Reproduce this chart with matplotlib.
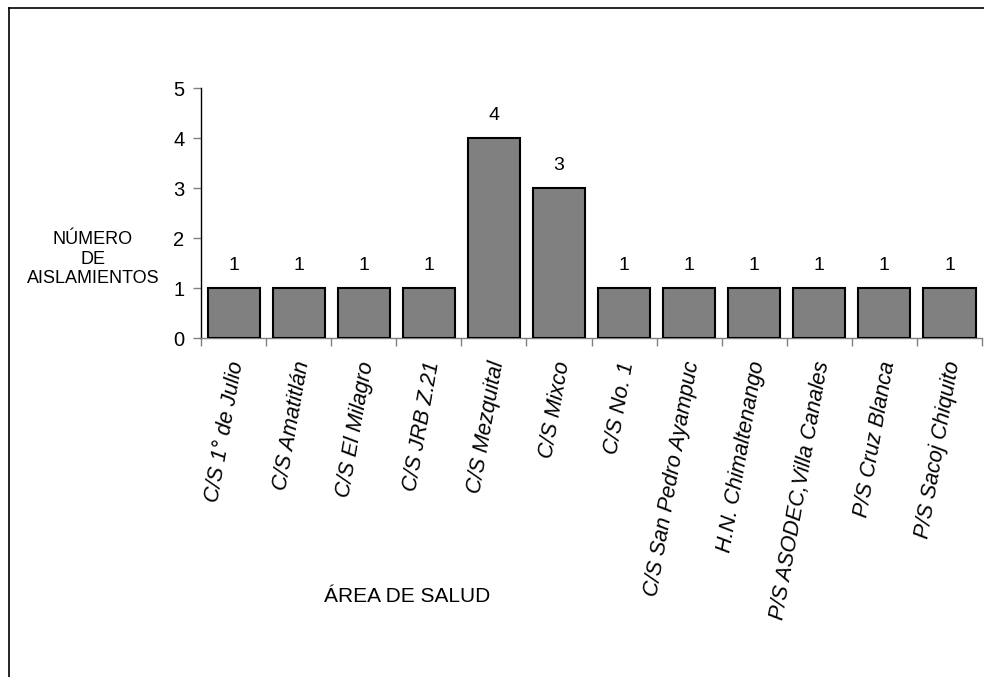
import matplotlib.pyplot as plt
from matplotlib.lines import Line2D
from matplotlib.ticker import FixedLocator

plt.rcParams['font.family'] = ['Liberation Sans', 'DejaVu Sans']

areas = ["C/S 1° de Julio", "C/S Amatitlán", "C/S El Milagro", "C/S JRB Z.21",
         "C/S Mezquital", "C/S Mixco", "C/S No. 1", "C/S San Pedro Ayampuc",
         "H.N. Chimaltenango", "P/S ASODEC,Villa Canales", "P/S Cruz Blanca",
         "P/S Sacoj Chiquito"]
aislamientos = [1, 1, 1, 1, 4, 3, 1, 1, 1, 1, 1, 1]
y_ticks = [0, 1, 2, 3, 4, 5]

fig = plt.figure(figsize=(9.84, 6.77), dpi=100)
ax = fig.add_axes([0.2043, 0.5007, 0.7937, 0.3693])

x = list(range(len(areas)))
bars = ax.bar(x, aislamientos, width=0.8, color='#808080',
              edgecolor='black', linewidth=1.5, zorder=3)

# value labels on top of each bar
for rect, v in zip(bars, aislamientos):
    ax.annotate(str(v), (rect.get_x() + rect.get_width() / 2, v),
                xytext=(0, 10), textcoords='offset points',
                ha='center', va='bottom', fontsize=14)

ax.set_xlim(-0.5, len(areas) - 0.5)
ax.set_ylim(0, 5)
ax.set_yticks(y_ticks)
ax.tick_params(axis='y', direction='out', length=6, width=1, color='#808080',
               labelsize=14.5, pad=6)

# category ticks sit between the bars
ax.set_xticks(x)
ax.set_xticklabels([])
ax.tick_params(axis='x', which='major', length=0)
ax.xaxis.set_minor_locator(FixedLocator([i - 0.5 for i in range(len(areas) + 1)]))
ax.tick_params(axis='x', which='minor', direction='out', length=6, width=1,
               color='#808080')

for i, name in enumerate(areas):
    ax.annotate(name, (i, 0), xytext=(3, -17), textcoords='offset points',
                ha='right', va='center', rotation=80, rotation_mode='anchor',
                fontsize=15.5, style='italic')

for side in ('top', 'right'):
    ax.spines[side].set_visible(False)
ax.spines['left'].set_color('black')
ax.spines['left'].set_linewidth(1)
ax.spines['bottom'].set_color('#808080')
ax.spines['bottom'].set_linewidth(1)

fig.text(93 / 984, 1 - 259 / 677, "NÚMERO\nDE\nAISLAMIENTOS", ha='center',
         va='center', fontsize=13, linespacing=1.2)
fig.text(407 / 984, 1 - 597 / 677, "ÁREA DE SALUD", ha='center', va='center',
         fontsize=15)

# outer frame (left and top edges)
fx = 9 / 984
fy = 1 - 8 / 677
fig.add_artist(Line2D([fx, fx], [0, fy], color='black', lw=1.2,
                      transform=fig.transFigure))
fig.add_artist(Line2D([fx, 1], [fy, fy], color='black', lw=1.2,
                      transform=fig.transFigure))

fig.savefig('out.png', dpi=100)
